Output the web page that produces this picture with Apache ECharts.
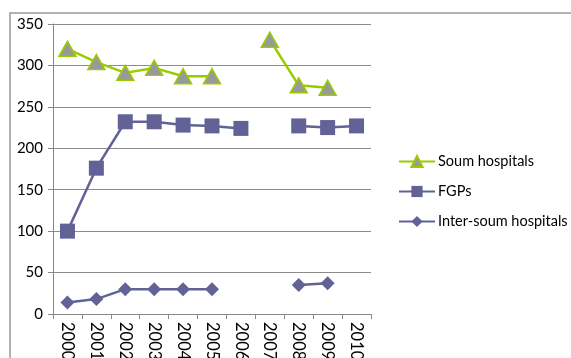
<!DOCTYPE html>
<html>
<head>
<meta charset="utf-8">
<script src="https://cdn.jsdelivr.net/npm/echarts@6/dist/echarts.min.js"></script>
<style>
  html, body { margin: 0; padding: 0; background: #fff; }
  #chart { width: 571px; height: 358px; }
</style>
</head>
<body>
<div id="chart"></div>
<script>
// Years on the category axis
const years = ['2000', '2001', '2002', '2003', '2004', '2005', '2006', '2007', '2008', '2009', '2010'];

// Counts per year (null = no data reported)
const soumHospitals = [320, 304, 291, 297, 287, 287, null, 331, 276, 273, null];
const fgps = [100, 176, 232, 232, 228, 227, 224, null, 227, 225, 227];
const interSoumHospitals = [14, 18, 30, 30, 30, 30, null, null, 35, 37, null];

const yTicks = { min: 0, max: 350, interval: 50 };

const font = 'Lato, "Open Sans", "Liberation Sans", sans-serif';
const green = '#99CC00';
const purple = '#626296';

const chart = echarts.init(document.getElementById('chart'), null, { renderer: 'canvas' });

chart.setOption({
  animation: false,
  backgroundColor: '#fff',
  textStyle: { fontFamily: font },
  graphic: [{
    type: 'rect',
    shape: { x: 10, y: 13, width: 600, height: 400 },
    style: { fill: 'none', stroke: '#999', lineWidth: 1.5 },
    silent: true,
    z: -1
  }],
  grid: { left: 53, right: 200, top: 24, bottom: 44, outerBoundsMode: 'none', containLabel: false },
  legend: {
    orient: 'vertical',
    left: 393,
    top: 149,
    itemWidth: 36,
    itemHeight: 14,
    itemGap: 15,
    textStyle: { fontFamily: font, fontSize: 14.5, color: '#000', padding: [0, 0, 0, -2] },
    data: ['Soum hospitals', 'FGPs', 'Inter-soum hospitals']
  },
  xAxis: {
    type: 'category',
    data: years,
    boundaryGap: true,
    axisLine: { lineStyle: { color: '#888', width: 1 } },
    axisTick: { show: true, length: 5, lineStyle: { color: '#888' } },
    axisLabel: { rotate: -90, fontSize: 16.5, color: '#000', margin: 8, fontFamily: font, interval: 0 }
  },
  yAxis: {
    type: 'value',
    min: yTicks.min,
    max: yTicks.max,
    interval: yTicks.interval,
    axisLine: { show: true, lineStyle: { color: '#888', width: 1 } },
    axisTick: { show: true, length: 5, lineStyle: { color: '#888' } },
    splitLine: { lineStyle: { color: '#8c8c8c', width: 1 } },
    axisLabel: { fontSize: 15, color: '#000', margin: 10, fontFamily: font }
  },
  series: [
    {
      name: 'Soum hospitals',
      type: 'line',
      data: soumHospitals,
      connectNulls: false,
      symbol: 'triangle',
      symbolSize: [17, 15],
      lineStyle: { color: green, width: 2.5 },
      itemStyle: { color: '#999', borderColor: green, borderWidth: 1.5 },
      z: 3
    },
    {
      name: 'FGPs',
      type: 'line',
      data: fgps,
      connectNulls: false,
      symbol: 'rect',
      symbolSize: 15,
      lineStyle: { color: purple, width: 2.5 },
      itemStyle: { color: purple, borderWidth: 0 },
      z: 2
    },
    {
      name: 'Inter-soum hospitals',
      type: 'line',
      data: interSoumHospitals,
      connectNulls: false,
      symbol: 'diamond',
      symbolSize: 14,
      lineStyle: { color: purple, width: 2.5 },
      itemStyle: { color: purple, borderWidth: 0 },
      z: 2
    }
  ]
});
</script>
</body>
</html>
